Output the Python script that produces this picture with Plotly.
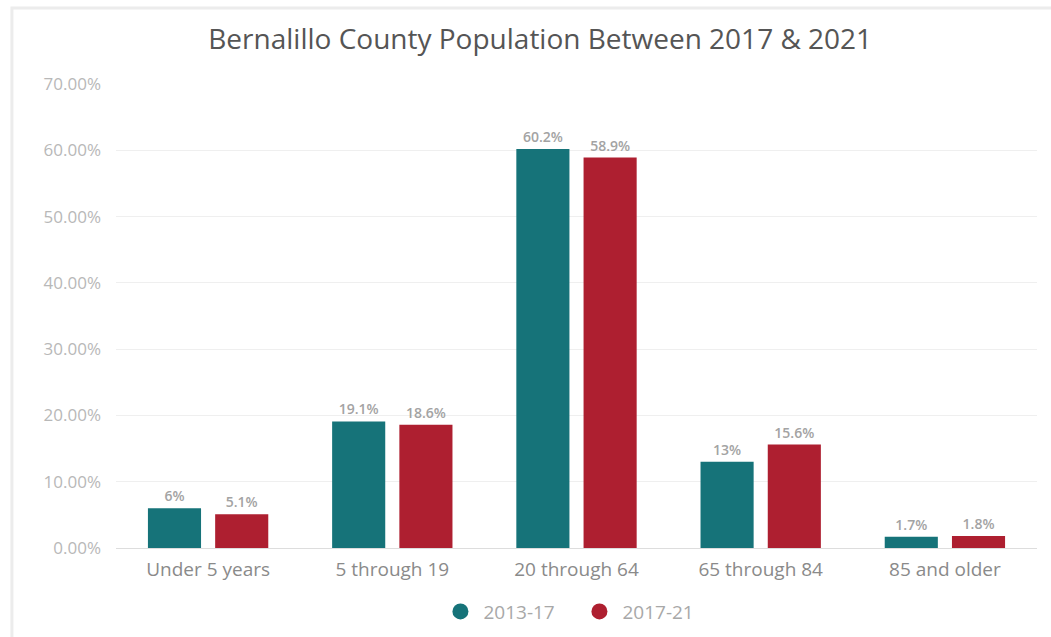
import plotly.graph_objects as go

# Age groups and population shares (%) for each survey period
age_groups = ["Under 5 years", "5 through 19", "20 through 64", "65 through 84", "85 and older"]
share_2013_17 = [6, 19.1, 60.2, 13, 1.7]
share_2017_21 = [5.1, 18.6, 58.9, 15.6, 1.8]
series_names = ["2013-17", "2017-21"]
series_colors = ["#167379", "#ae1f30"]
y_ticks = [0, 10, 20, 30, 40, 50, 60, 70]

FONT = "Open Sans"

fig = go.Figure()
for name, vals, color in zip(series_names, [share_2013_17, share_2017_21], series_colors):
    fig.add_trace(go.Bar(
        x=age_groups, y=vals, name=name,
        marker=dict(color=color, line=dict(width=0)),
        texttemplate="%{y}%", textposition="outside",
        textfont=dict(family=FONT, size=14, color="#a3a3a3", weight=600),
        cliponaxis=False, showlegend=False,
    ))
    # circular legend entries
    fig.add_trace(go.Scatter(
        x=[None], y=[None], mode="markers", name=name,
        marker=dict(symbol="circle", size=16, color=color),
        showlegend=True,
    ))

fig.add_shape(type="rect", xref="paper", yref="paper",
              x0=-0.113, x1=1.2, y0=-0.4, y1=1.164,
              line=dict(color="#ececec", width=3), layer="below")

fig.update_layout(
    width=1051, height=637,
    margin=dict(l=116, r=14, t=84, b=89, autoexpand=False),
    paper_bgcolor="white", plot_bgcolor="white",
    title=dict(text="Bernalillo County Population Between 2017 & 2021",
               x=0.514, xanchor="center", y=0.938, yanchor="middle",
               font=dict(family=FONT, size=28, color="#555555")),
    barmode="group", bargap=0.27, bargroupgap=0.21,
    xaxis=dict(tickfont=dict(family=FONT, size=19, color="#8a8a8a"),
               showline=False, ticks="", showgrid=False,
               ticklabelstandoff=8, automargin=False),
    yaxis=dict(range=[0, 70], tickvals=y_ticks,
               ticktext=[f"{v:.2f}%" for v in y_ticks],
               tickfont=dict(family=FONT, size=17, color="#b8b8b8"),
               gridcolor="#efefef", gridwidth=1,
               zeroline=True, zerolinecolor="#dddddd", zerolinewidth=1,
               ticks="", ticklabelstandoff=14, automargin=False),
    legend=dict(orientation="h", x=0.349, xanchor="left", y=-0.137, yanchor="middle",
                font=dict(family=FONT, size=19, color="#a8a8a8"),
                itemwidth=36, entrywidth=88, entrywidthmode="pixels"),
    font=dict(family=FONT),
)

fig.write_html("out.html")
